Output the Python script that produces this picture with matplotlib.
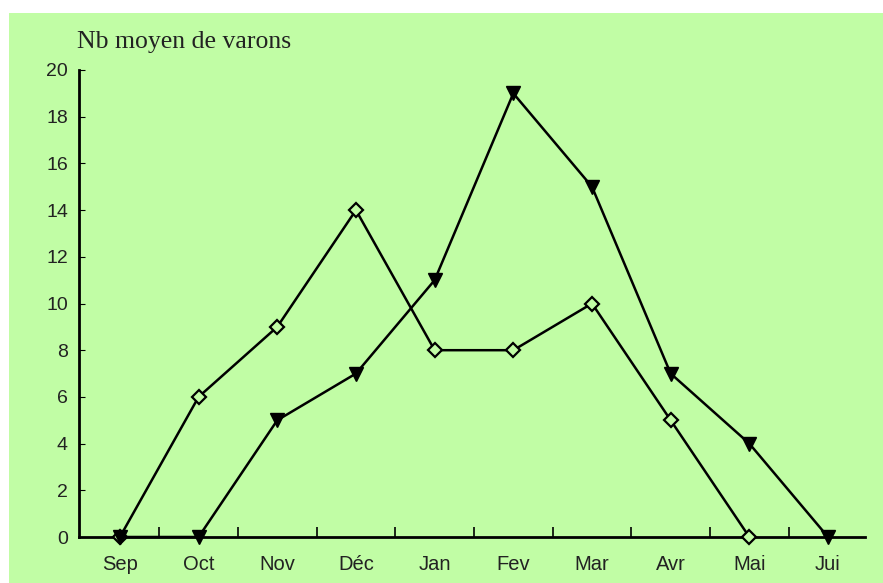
import matplotlib
matplotlib.use("Agg")
import matplotlib.pyplot as plt
from matplotlib.patches import Rectangle

months = ["Sep", "Oct", "Nov", "Déc", "Jan", "Fev", "Mar", "Avr", "Mai", "Jui"]
diamond_vals = [0, 6, 9, 14, 8, 8, 10, 5, 0]          # Sep..Mai
triangle_months = ["Sep", "Oct", "Nov", "Déc", "Jan", "Fev", "Mar", "Avr", "Mai", "Jui"]
triangle_vals = [0, 0, 5, 7, 11, 19, 15, 7, 4, 0]
yticks = [0, 2, 4, 6, 8, 10, 12, 14, 16, 18, 20]
title = "Nb moyen de varons"

W, H = 883, 583
bg = "#c1fda5"
fig = plt.figure(figsize=(W / 100, H / 100), dpi=100, facecolor="white")
fig.patches.append(Rectangle((9 / W, 0), 1 - 9 / W, 1 - 13 / H, transform=fig.transFigure,
                             facecolor=bg, edgecolor="none", zorder=-10))

left, right, top, bottom = 79, 865, 70, 537
ax = fig.add_axes([left / W, (H - bottom) / H, (right - left) / W, (bottom - top) / H])
ax.set_zorder(5)
ax.set_facecolor("none")

x_d = list(range(len(diamond_vals)))
x_t = [months.index(m) for m in triangle_months]

ax.plot(x_d, diamond_vals, color="black", lw=1.8, marker="D", markersize=7,
        markerfacecolor=bg, markeredgecolor="black", markeredgewidth=1.6, zorder=3, clip_on=False)
ax.plot(x_t, triangle_vals, color="black", lw=1.8, marker="v", markersize=10,
        markerfacecolor="black", markeredgecolor="black", zorder=4, clip_on=False)

ax.set_xlim(-0.52, 9.47)
ax.set_ylim(0, 20)
for s in ["top", "right"]:
    ax.spines[s].set_visible(False)
for s in ["left", "bottom"]:
    ax.spines[s].set_linewidth(2)
    ax.spines[s].set_color("black")

ax.set_xticks(range(len(months)))
ax.set_xticklabels(months, fontsize=14.5, family=["Liberation Sans"], color="#222222")
ax.tick_params(axis="x", which="major", length=0, pad=13)
ax.set_xticks([i + 0.5 for i in range(len(months) - 1)], minor=True)
ax.tick_params(axis="x", which="minor", direction="in", length=7, width=1.2)

ax.set_yticks(yticks)
ax.set_yticklabels([str(v) for v in yticks], fontsize=14, family=["Liberation Sans"], color="#222222")
ax.tick_params(axis="y", direction="in", length=4, width=0.8, pad=8)

fig.text(77 / W, 1 - 48 / H, title, fontsize=18.5, family=["Liberation Serif"], color="#222222",
         ha="left", va="baseline")

fig.savefig("out.png", dpi=100, facecolor=fig.get_facecolor())
